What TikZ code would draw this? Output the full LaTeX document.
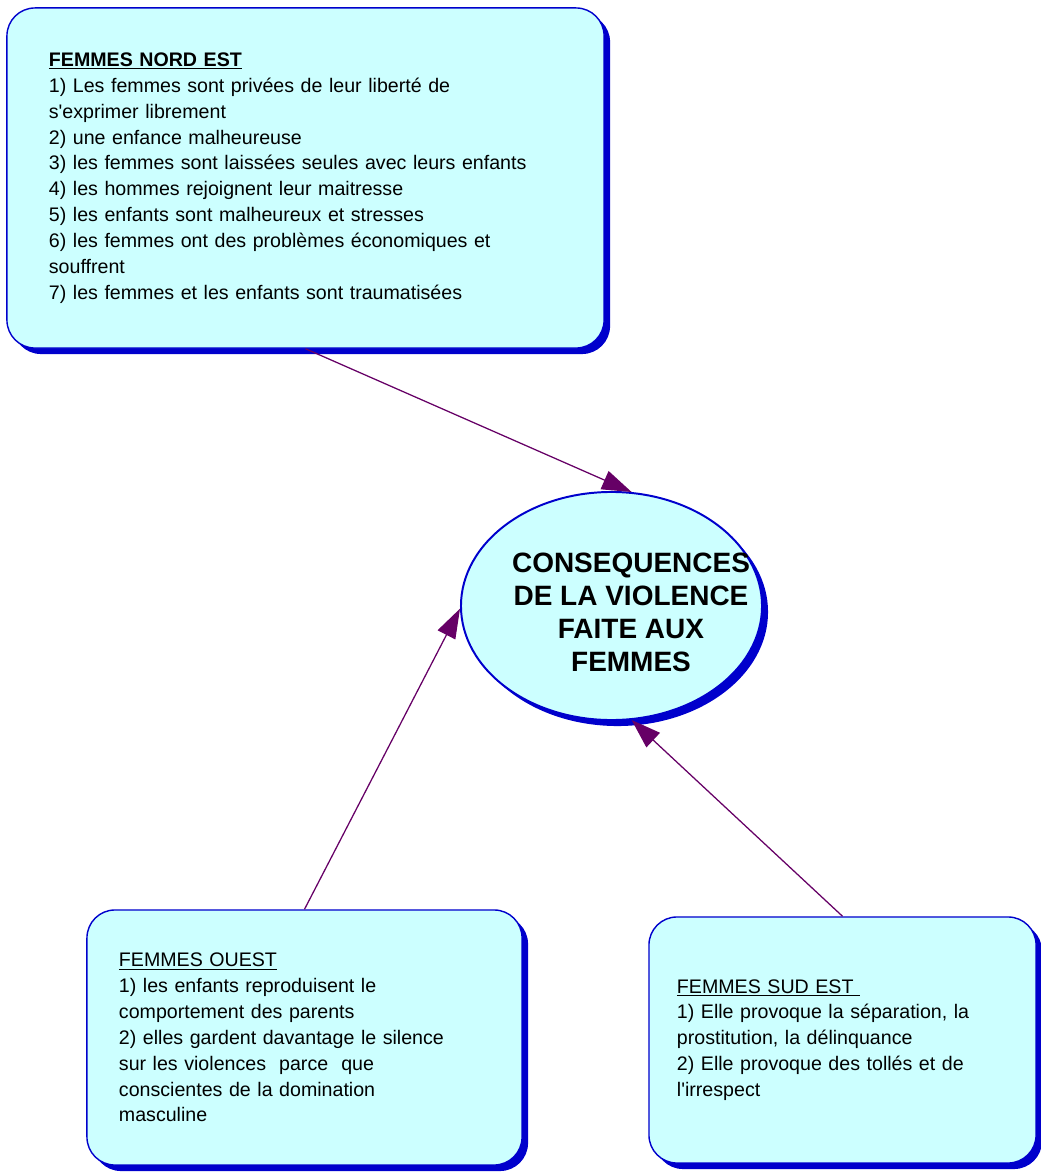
\documentclass[tikz,border=0pt]{standalone}
\usepackage{fontspec}
\setmainfont{Liberation Sans}
\usepackage{xcolor}
\definecolor{boxcyan}{RGB}{204,255,255}
\definecolor{edgeblue}{RGB}{0,0,204}
\definecolor{arrowpurple}{RGB}{102,0,102}
\usetikzlibrary{shapes.geometric, arrows.meta, positioning, shadows}

\begin{document}
\begin{tikzpicture}[
    x=0.025cm, y=-0.025cm,
    theme/.style={rectangle, draw=edgeblue, fill=boxcyan, line width=1pt,
                  rounded corners=0.7cm, align=left, inner sep=0pt,
                  font=\fontsize{13.95}{18.4}\selectfont,
                  drop shadow={shadow xshift=0.15cm, shadow yshift=-0.15cm,
                               opacity=1, fill=edgeblue}},
    centre/.style={ellipse, draw=edgeblue, fill=boxcyan, line width=1.4pt,
                  inner sep=0pt, minimum width=7.525cm, minimum height=5.7cm,
                  drop shadow={shadow xshift=0.15cm, shadow yshift=-0.15cm,
                               opacity=1, fill=edgeblue}},
    arrow/.style={-{Triangle[length=21pt, width=14pt]}, line width=0.9pt, arrowpurple}
]
    \useasboundingbox (0,0) rectangle (1040,1174);

    % Central theme
    \node[centre] (cons) at (611.5,606) {};
    \node[align=center, inner sep=0pt, font=\bfseries\fontsize{19.9}{23.5}\selectfont]
        (consText) at (631,612) {CONSEQUENCES\\DE LA VIOLENCE\\FAITE AUX\\FEMMES};

    % Regions
    \node[theme, minimum width=14.925cm, minimum height=8.5cm, text width=12.825cm]
        (nordest) at (305.5,178) {\textbf{\underline{FEMMES NORD EST}}\\
        1) Les femmes sont privées de leur liberté de\\
        s\textquotesingle exprimer librement\\
        2) une enfance malheureuse\\
        3) les femmes sont laissées seules avec leurs enfants\\
        4) les hommes rejoignent leur maitresse\\
        5) les enfants sont malheureux et stresses\\
        6) les femmes ont des problèmes économiques et\\
        souffrent\\
        7) les femmes et les enfants sont traumatisées};
    \node[theme, minimum width=10.875cm, minimum height=6.375cm, text width=9.275cm]
        (ouest) at (304.5,1037.5) {\underline{FEMMES OUEST}\\
        1) les enfants reproduisent le\\
        comportement des parents\\
        2) elles gardent davantage le silence\\
        sur les violences\ \ parce\ \ que\\
        conscientes de la domination\\
        masculine};
    \node[theme, minimum width=9.675cm, minimum height=6.15cm, text width=8.275cm]
        (sudest) at (842.5,1040) {\underline{FEMMES SUD EST\ }\\
        1) Elle provoque la séparation, la\\
        prostitution, la délinquance\\
        2) Elle provoque des tollés et de\\
        l\textquotesingle irrespect};

    % Arrows
    \draw[arrow] (nordest.south) -- (cons.80);
    \draw[arrow] (ouest.north) -- (cons.181);
    \draw[arrow] (sudest.north) -- (cons.280);
\end{tikzpicture}
\end{document}
